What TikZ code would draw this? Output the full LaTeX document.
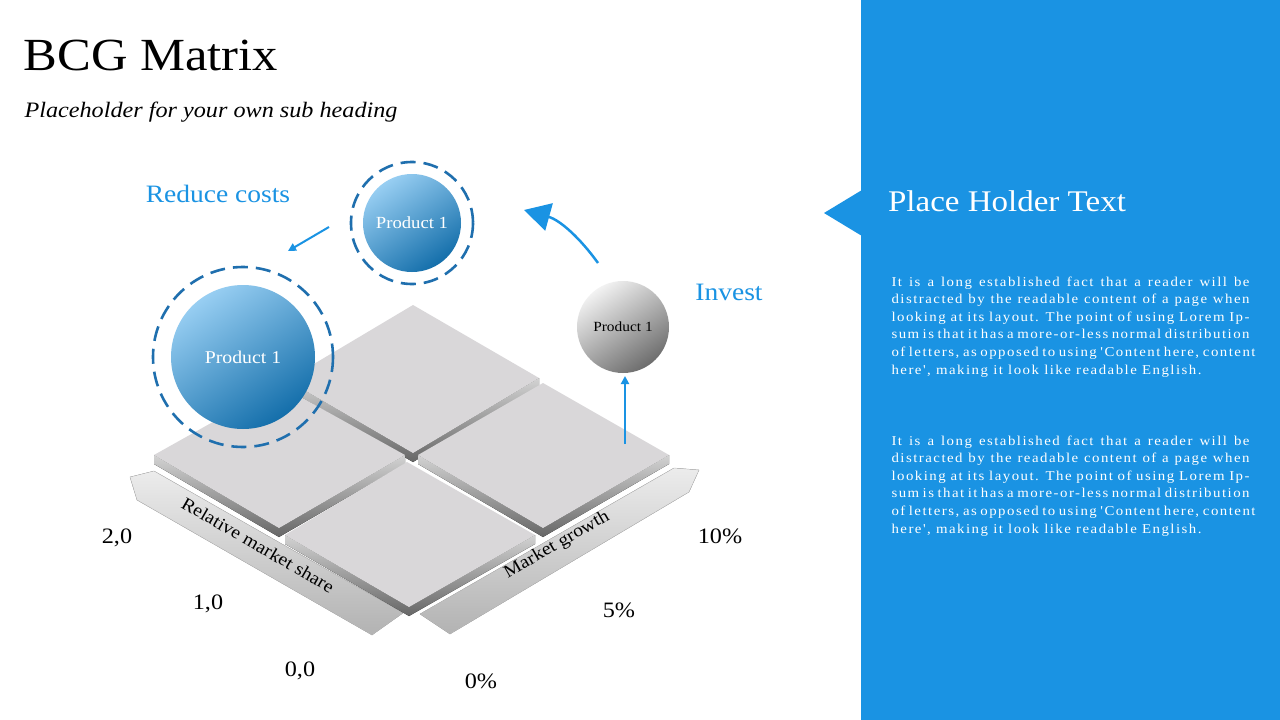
\documentclass[tikz,border=0pt]{standalone}
\usepackage{fontspec}
\setmainfont{Liberation Serif}[FakeStretch=1.1]
\newfontfamily\parafont{Liberation Serif}[FakeStretch=1.1,LetterSpace=11]
\usetikzlibrary{arrows.meta,calc}
\definecolor{pblue}{HTML}{1A93E3}
\definecolor{dblue}{HTML}{1F6FAE}
\definecolor{tileg}{HTML}{D9D7D9}
\tikzset{
 face/.style={fill=tileg},
 bevel/.style={top color=gray!35,bottom color=gray!80!black},
 ring/.style={draw=dblue,line width=2.6pt,dash pattern=on 15pt off 8pt},
 ball/.style={circle,inner sep=0pt,top color=pblue!45!white,middle color=pblue,bottom color=pblue!75!black,shading angle=35,text=white},
 gball/.style={circle,inner sep=0pt,top color=gray!10,middle color=gray!35,bottom color=gray!85!black,shading angle=35},
 ax/.style={font=\fontsize{22}{24}\selectfont},
 barr/.style={draw=pblue,line width=2pt},
 arrbar/.style={top color=gray!15,bottom color=gray!60,draw=gray!50},
 para/.style={text=white,text width=358pt,align=justify,anchor=north west,font=\parafont\fontsize{13.5}{17.6}\selectfont}
}
\newcommand{\tile}[4]{% left top right bottom
 \fill[bevel] #1 -- #4 -- #3 -- ($#3+(0,9)$) -- ($#4+(0,9)$) -- ($#1+(0,9)$) -- cycle;
 \fill[face] #1 -- #2 -- #3 -- #4 -- cycle;}
\newcommand{\lorem}{\hyphenpenalty=10000\relax\exhyphenpenalty=10000\relax It is a long established fact that a reader will be distracted by the readable content of a page when looking at its layout. The point of using Lorem Ipsum is that it has a more-or-less normal distribution of letters, as opposed to using 'Content here, content here', making it look like readable English.}
\begin{document}
\begin{tikzpicture}[x=1pt,y=-1pt]
\useasboundingbox (0,0) rectangle (1280,720);
\fill[white] (0,0) rectangle (1280,720);
% right panel
\fill[pblue] (861,0) rectangle (1280,720);
\fill[pblue] (824,213) -- (862,190) -- (862,236) -- cycle;
\node[text=white,font=\fontsize{30}{32}\selectfont] (pht) at (1007,201) {Place Holder Text};
\node[para] (p1) at (888,273) {\lorem};
\node[para] (p2) at (888,432) {\lorem};
% titles
\node[anchor=west,font=\fontsize{46}{50}\selectfont] (title) at (20,55) {BCG Matrix};
\node[anchor=west,font=\itshape\fontsize{22}{24}\selectfont] (sub) at (21,112) {Placeholder for your own sub heading};
% axis bars
\fill[arrbar] (130,477) -- (154,471) -- (403,613) -- (372,635) -- (137,500) -- cycle;
\fill[arrbar] (420,614) -- (674,468) -- (699,470) -- (689,492) -- (450,634) -- cycle;
\node[rotate=-30,font=\fontsize{18}{20}\selectfont] (rms) at (258,545) {Relative market share};
\node[rotate=30,font=\fontsize{18}{20}\selectfont] (mg) at (557,545) {Market growth};
% tiles
\tile{(287,380)}{(413,305)}{(539,378)}{(413,453)}
\tile{(418,455)}{(543,383)}{(669,455)}{(543,528)}
\tile{(154,455)}{(279,385)}{(405,455)}{(279,528)}
\tile{(285,535)}{(407,462)}{(535,535)}{(409,607)}
% axis labels
\node[ax] (a20) at (117,538) {2,0};
\node[ax] (a10) at (208,604) {1,0};
\node[ax] (a00) at (300,671) {0,0};
\node[ax] (b10) at (720,536) {10\%};
\node[ax] (b5) at (619,610) {5\%};
\node[ax] (b0) at (481,681) {0\%};
% balls
\draw[ring] (243,357) circle (90);
\node[ball,minimum size=144pt,font=\fontsize{18}{20}\selectfont] (big) at (243,357) {Product 1};
\draw[ring] (412,223) circle (61);
\node[ball,minimum size=98pt,font=\fontsize{17}{19}\selectfont] (small) at (412,223) {Product 1};
\node[gball,minimum size=92pt,font=\fontsize{14}{16}\selectfont] (gray) at (623,327) {Product 1};
% labels
\node[text=pblue,font=\fontsize{25}{27}\selectfont] (rc) at (218,194) {Reduce costs};
\node[text=pblue,font=\fontsize{25}{27}\selectfont] (inv) at (729,292) {Invest};
% arrows
\coordinate (c1) at (329,227); \coordinate (c2) at (288,251);
\draw[barr,-{Triangle[length=8pt,width=8pt]}] (c1) -- (c2);
\coordinate (i1) at (625,444); \coordinate (i2) at (625,376);
\draw[barr,-{Triangle[length=8pt,width=8pt]}] (i1) -- (i2);
\coordinate (d1) at (598,263); \coordinate (d2) at (524,210);
\draw[draw=pblue,line width=2.5pt,-{Triangle[length=26pt,width=28pt]}] (d1) .. controls (580,238) and (560,220) .. (d2);
\end{tikzpicture}
\end{document}
